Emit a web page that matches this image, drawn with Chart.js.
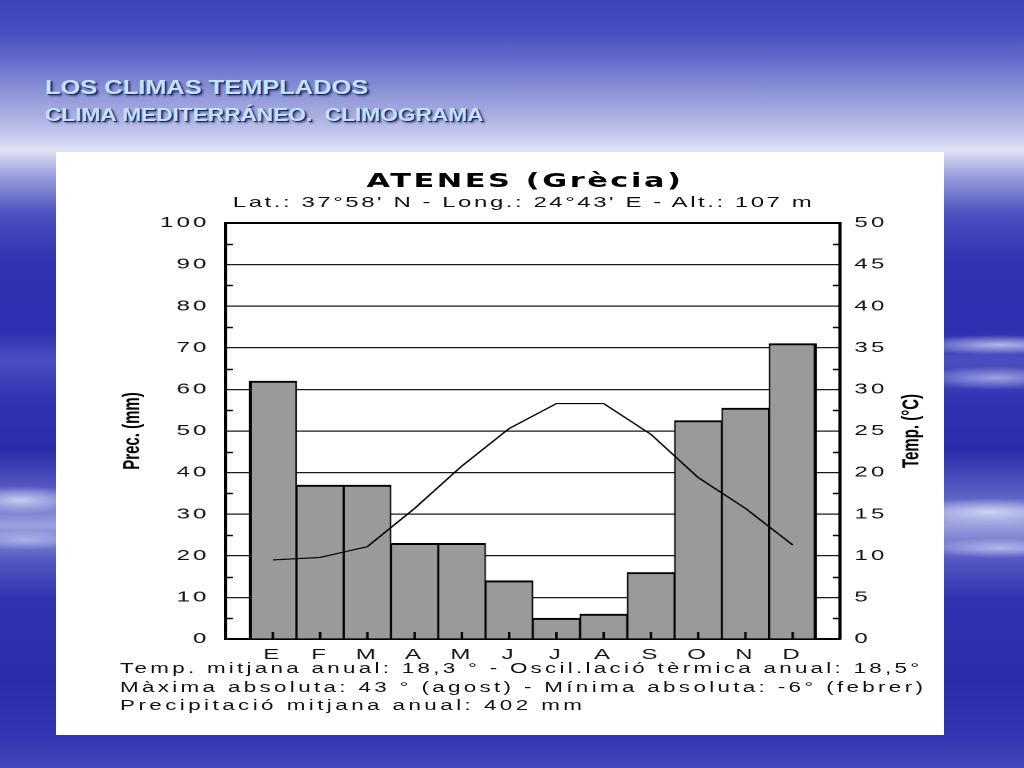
<!DOCTYPE html>
<html>
<head>
<meta charset="utf-8">
<title>Climograma Atenes</title>
<script src="https://cdn.jsdelivr.net/npm/chart.js@4.4.1/dist/chart.umd.min.js"></script>
<style>
  html, body { margin: 0; padding: 0; }
  body {
    width: 1024px; height: 768px; overflow: hidden; position: relative;
    font-family: "Liberation Sans", Arial, sans-serif;
    background:
      radial-gradient(ellipse 90px 10px at 1000px 345px, rgba(230,235,255,.7), rgba(230,235,255,0)),
      radial-gradient(ellipse 80px 12px at 995px 378px, rgba(220,225,255,.6), rgba(220,225,255,0)),
      radial-gradient(ellipse 90px 14px at 990px 512px, rgba(235,238,255,.75), rgba(235,238,255,0)),
      radial-gradient(ellipse 80px 10px at 1000px 548px, rgba(225,230,255,.6), rgba(225,230,255,0)),
      radial-gradient(ellipse 70px 14px at 20px 500px, rgba(235,238,255,.75), rgba(235,238,255,0)),
      radial-gradient(ellipse 60px 10px at 25px 540px, rgba(220,225,255,.5), rgba(220,225,255,0)),
      linear-gradient(180deg, #3d43b8 0px, #454dbf 30px, #656ccb 60px, #8a91d7 90px, #a9aee2 115px,
        #c9cdef 138px, #dfe2f6 150px, #9aa0dc 175px, #4c4fc0 215px, #3133b2 260px, #2e2fb0 330px,
        #4a4fbf 360px, #3232b2 400px, #2b2cab 450px, #6167c8 500px, #9aa0dd 525px, #5358c2 560px,
        #3132b1 600px, #2b2ca9 680px, #3436b3 740px, #4448bb 768px);
  }
  .slide-title {
    position: absolute; left: 45px; white-space: nowrap; font-weight: bold;
    color: #c3e4f7; transform-origin: 0 50%; line-height: 1;
    text-shadow: 1px 1px 0 #1c2574, 2px 2px 2px rgba(10,10,60,.55);
  }
  #t1 { top: 76px; font-size: 21px; }
  #t2 { top: 106px; font-size: 18px; }
  #panel {
    position: absolute; left: 56px; top: 152px; width: 888px; height: 583px;
    background: #fff; overflow: hidden;
  }
  /* the original picture is stretched sideways, so the whole panel is too */
  #inner {
    position: absolute; left: 0; top: 0; width: 555px; height: 583px;
    transform: scaleX(1.6); transform-origin: 0 0;
  }
  #chart { position: absolute; left: 0; top: 0; }
  .txt { position: absolute; white-space: nowrap; color: #111; line-height: 1; }
  #ctitle { font-family: "DejaVu Sans", sans-serif; font-weight: bold; font-size: 19px; color: #000; }
  #csub { font-size: 15px; }
  .foot { font-size: 14px; left: 40px; }
</style>
</head>
<body>
<div class="slide-title" id="t1">LOS CLIMAS TEMPLADOS</div>
<div class="slide-title" id="t2">CLIMA MEDITERRÁNEO.&nbsp; CLIMOGRAMA</div>

<div id="panel">
  <div id="inner">
    <canvas id="chart" width="555" height="583"></canvas>
    <div class="txt" id="ctitle">ATENES (Grècia)</div>
    <div class="txt" id="csub">Lat.: 37°58' N - Long.: 24°43' E - Alt.: 107 m</div>
    <div class="txt foot" id="f1">Temp. mitjana anual: 18,3 ° - Oscil.lació tèrmica anual: 18,5°</div>
    <div class="txt foot" id="f2">Màxima absoluta: 43 ° (agost) - Mínima absoluta: -6° (febrer)</div>
    <div class="txt foot" id="f3">Precipitació mitjana anual: 402 mm</div>
  </div>
</div>

<script>
// month initials (catalan)
const months = ['E', 'F', 'M', 'A', 'M', 'J', 'J', 'A', 'S', 'O', 'N', 'D'];
// precipitation in mm (bars, left axis)
const precipitation = [62, 37, 37, 23, 23, 14, 5, 6, 16, 52.5, 55.5, 71];
// mean temperature in °C (line, right axis)
const temperature = [9.5, 9.8, 11.1, 15.7, 20.8, 25.3, 28.3, 28.3, 24.6, 19.4, 15.7, 11.3];
// axis ranges
const precAxis = { min: 0, max: 100, step: 10 };
const tempAxis = { min: 0, max: 50, step: 5 };

const FONT = '"Liberation Sans", Arial, sans-serif';

// small inward ticks on the axes (half steps on y, month centres on x)
const innerTicks = {
  id: 'innerTicks',
  afterDatasetsDraw(chart) {
    const { ctx, chartArea, scales } = chart;
    ctx.save();
    ctx.strokeStyle = '#000';
    ctx.lineWidth = 1.5;
    ctx.beginPath();
    for (let v = precAxis.min + precAxis.step / 2; v < precAxis.max; v += precAxis.step) {
      const y = Math.round(scales.yP.getPixelForValue(v)) + 0.5;
      ctx.moveTo(chartArea.left, y);
      ctx.lineTo(chartArea.left + 4.5, y);
      ctx.moveTo(chartArea.right, y);
      ctx.lineTo(chartArea.right - 4.5, y);
    }
    months.forEach((m, i) => {
      const x = scales.x.getPixelForValue(i);
      ctx.moveTo(x, chartArea.bottom);
      ctx.lineTo(x, chartArea.bottom - 7);
    });
    ctx.stroke();
    ctx.restore();
  }
};

// rotated axis titles
const axisTitles = {
  id: 'axisTitles',
  afterDraw(chart) {
    const { ctx, chartArea } = chart;
    const midY = (chartArea.top + chartArea.bottom) / 2;
    ctx.save();
    ctx.letterSpacing = '0px';
    ctx.font = 'bold 15px ' + FONT;
    ctx.fillStyle = '#000';
    ctx.textAlign = 'center';
    ctx.textBaseline = 'middle';
    [['Prec. (mm)', chartArea.left - 58], ['Temp. (°C)', chartArea.right + 45]].forEach(([text, x]) => {
      ctx.save();
      ctx.translate(x, midY);
      ctx.rotate(-Math.PI / 2);
      ctx.fillText(text, 0, 0);
      ctx.restore();
    });
    ctx.restore();
  }
};

// the tick numbers in the original are widely spaced
const spacedTicks = {
  id: 'spacedTicks',
  beforeDraw(chart) { chart.ctx.letterSpacing = '2px'; }
};

chartIt();

function chartIt() {
  const ctx = document.getElementById('chart').getContext('2d');
  new Chart(ctx, {
    type: 'bar',
    data: {
      datasets: [
        {
          type: 'line',
          label: 'Temp. (°C)',
          data: temperature.map((t, i) => ({ x: i, y: t })),
          yAxisID: 'yT',
          borderColor: '#000',
          borderWidth: 1.2,
          pointRadius: 0,
          tension: 0,
          fill: false,
          order: 1
        },
        {
          label: 'Prec. (mm)',
          data: precipitation.map((p, i) => ({ x: i, y: p })),
          yAxisID: 'yP',
          backgroundColor: '#9a9a9a',
          borderColor: '#000',
          borderWidth: c => ({
            top: 2,
            bottom: 0,
            left: c.dataIndex === 0 ? 2 : 1,
            right: c.dataIndex === months.length - 1 ? 2 : 1
          }),
          borderSkipped: false,
          categoryPercentage: 1,
          barPercentage: 1,
          order: 2
        }
      ]
    },
    options: {
      responsive: false,
      devicePixelRatio: 2,
      animation: false,
      layout: { padding: { top: 71, bottom: 66, left: 0, right: 0 } },
      plugins: { legend: { display: false }, tooltip: { enabled: false } },
      scales: {
        x: {
          type: 'linear',
          offset: false,
          min: -1,
          max: months.length,
          grid: { display: false, drawTicks: false },
          border: { display: true, color: '#000', width: 2 },
          ticks: {
            stepSize: 1,
            autoSkip: false,
            maxRotation: 0,
            padding: 7,
            color: '#111',
            font: { family: FONT, size: 15 },
            callback: v => months[v] || ''
          },
          afterFit: s => { s.height = 30; }
        },
        yP: {
          position: 'left',
          min: precAxis.min,
          max: precAxis.max,
          grid: {
            color: c => c.tick.value === precAxis.max ? '#000' : '#1a1a1a',
            lineWidth: c => c.tick.value === precAxis.max ? 2 : 1.3,
            drawTicks: false
          },
          border: { color: '#000', width: 2 },
          ticks: { stepSize: precAxis.step, padding: 10, color: '#111', font: { family: FONT, size: 15 } },
          afterFit: s => { s.width = 106; }
        },
        yT: {
          position: 'right',
          min: tempAxis.min,
          max: tempAxis.max,
          grid: { drawOnChartArea: false, drawTicks: false },
          border: { color: '#000', width: 2 },
          ticks: { stepSize: tempAxis.step, padding: 9, color: '#111', font: { family: FONT, size: 15 } },
          afterFit: s => { s.width = 65; }
        }
      }
    },
    plugins: [spacedTicks, innerTicks, axisTitles]
  });
}

// spread a text line so that it covers the given width (inner units)
function spread(id, width, centerX, midY, left) {
  const el = document.getElementById(id);
  const n = el.textContent.length;
  el.style.letterSpacing = '0px';
  const w = el.offsetWidth;
  el.style.letterSpacing = ((width - w) / n) + 'px';
  el.style.top = (midY - el.offsetHeight / 2) + 'px';
  el.style.left = (left !== undefined ? left : centerX - width / 2) + 'px';
}

// stretch a slide title to the given width
function stretch(id, width) {
  const el = document.getElementById(id);
  el.style.transform = 'scaleX(' + (width / el.offsetWidth) + ')';
}

document.fonts.ready.then(() => {
  spread('ctitle', 198, 293, 28);
  spread('csub', 363, 292, 49);
  spread('f1', 502, 0, 516, 40);
  spread('f2', 504, 0, 535, 40);
  spread('f3', 291, 0, 553, 40);
  stretch('t1', 323);
  stretch('t2', 438);
});
</script>
</body>
</html>
